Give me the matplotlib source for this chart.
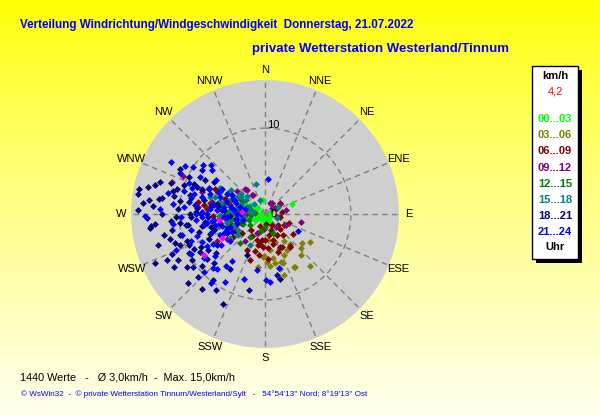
import numpy as np
import matplotlib
matplotlib.use('Agg')
import matplotlib.pyplot as plt
from matplotlib.patches import Rectangle

plt.rcParams['font.family'] = ['Liberation Sans', 'DejaVu Sans']

# wind points: (direction in deg, speed in km/h), grouped by time of day
g00_03 = [(70, 3.3), (352, 1.6), (120, 0.7), (260, 1.0), (270, 1.5), (280, 2.0), (275, 2.5),
          (265, 3.0), (285, 3.2), (290, 1.2), (250, 1.8), (255, 2.4), (300, 2.0), (310, 1.0),
          (240, 1.3), (230, 0.8), (270, 0.5), (295, 2.7), (280, 3.5), (260, 2.2), (90, 0.6),
          (60, 1.0), (200, 0.8), (180, 0.5), (150, 0.9), (285, 1.6), (275, 1.0), (265, 1.9),
          (250, 2.9), (290, 2.4)]
g03_06 = [(183, 5.0), (170, 5.2), (168, 5.8), (160, 6.1), (149, 4.9), (150, 7.1), (139, 6.3),
          (133, 5.8), (160, 3.5), (173, 3.0), (150, 2.8), (122, 6.2), (128, 5.4), (151, 7.0),
          (161, 5.9), (182, 4.9), (175, 6.1), (165, 6.6), (158, 4.4), (145, 3.8), (172, 4.2),
          (178, 5.6), (155, 5.3), (140, 4.6), (188, 6.2), (163, 7.4), (139, 8.0)]
g06_09 = [(54, 2.2), (83, 2.0), (143, 4.8), (183, 3.8), (187, 3.0), (197, 3.2), (207, 4.7),
          (297, 6.2), (280, 7.9), (283, 6.3), (265, 5.3), (251, 4.7), (142, 4.7), (176, 5.2),
          (161, 4.7), (193, 3.7), (153, 4.3), (160, 2.0), (170, 2.5), (180, 3.0), (190, 3.5),
          (150, 2.8), (140, 3.2), (200, 2.4), (175, 4.0), (165, 3.6), (155, 4.2), (195, 4.4),
          (210, 3.0), (220, 2.5), (130, 2.0), (120, 2.6), (185, 1.8), (230, 3.5), (240, 4.0),
          (250, 3.0), (260, 3.5), (270, 4.0), (280, 3.0), (145, 1.5), (205, 1.5), (290, 5.0),
          (275, 6.8), (300, 4.6), (297, 6.5), (278, 7.2), (268, 6.0), (100, 1.8), (110, 3.0),
          (125, 4.0), (135, 2.4), (60, 1.4), (255, 4.2), (245, 5.0), (265, 4.6), (285, 4.2),
          (275, 5.0), (235, 4.6), (172, 1.2), (162, 3.2), (188, 4.8), (198, 5.6)]
g09_12 = [(295, 10.5), (289, 11.4), (103, 4.3), (292, 4.3), (286, 3.0), (323, 3.5), (325, 2.7),
          (25, 1.4), (50, 1.0), (103, 1.4), (203, 2.4), (216, 3.9), (236, 5.3), (240, 6.4),
          (267, 5.2), (281, 6.5), (292, 7.9), (276, 7.9), (32, 1.5), (321, 3.7), (328, 2.6),
          (295, 6.1), (289, 7.8), (65, 1.6), (300, 5.0), (310, 4.2), (260, 4.5), (250, 3.6),
          (270, 2.2), (118, 2.8), (140, 2.0), (80, 2.5), (56, 2.1), (275, 4.0), (285, 5.4),
          (265, 3.2), (255, 5.6), (300, 3.4), (280, 2.0), (245, 4.4)]
g12_15 = [(213, 3.2), (221, 4.4), (157, 2.4), (250, 2.0), (260, 2.6), (270, 3.0), (280, 2.2),
          (265, 1.6), (275, 3.8), (285, 2.9), (255, 3.4), (245, 2.8), (290, 1.8), (235, 2.2),
          (300, 3.0), (270, 4.5), (260, 4.0), (275, 1.2), (195, 2.0), (180, 1.5)]
g15_18 = [(343, 3.6), (301, 4.7), (301, 3.8), (307, 2.7), (310, 3.7), (284, 5.0), (277, 3.7),
          (256, 4.5), (236, 4.9), (239, 3.6), (292, 2.3), (312, 1.8), (279, 1.8), (296, 5.8),
          (289, 6.1), (287, 6.7), (263, 2.5), (340, 1.7), (62, 1.7), (108, 1.5), (206, 4.0),
          (232, 4.0), (300, 6.0), (285, 5.6), (275, 4.2), (265, 3.3), (255, 5.8), (245, 4.6),
          (290, 3.0), (305, 3.4), (315, 2.9), (295, 2.0), (280, 1.4), (270, 3.8), (262, 4.2),
          (250, 4.0), (258, 3.0), (283, 3.3), (290, 4.4), (298, 3.8), (305, 4.8), (278, 5.3),
          (268, 5.4)]
g18_21 = [(281, 15.0), (279, 15.0), (274, 13.1), (264, 13.3), (279, 12.1), (246, 14.0),
          (281, 10.8), (286, 10.6), (279, 10.0), (268, 10.4), (264, 10.0), (262, 9.3),
          (255, 11.4), (251, 9.6), (242, 11.5), (243, 9.9), (243, 8.4), (234, 10.4),
          (220, 11.4), (213, 10.5), (205, 11.6), (192, 9.0), (167, 7.8), (169, 7.2),
          (204, 5.2), (227, 10.7), (232, 8.6), (232, 7.3), (237, 6.6), (212, 7.6),
          (283, 7.3), (278, 6.4), (275, 7.9), (267, 6.7), (270, 8.7), (259, 7.5), (253, 6.2),
          (292, 8.5), (300, 8.0), (302, 7.0), (293, 9.0), (296, 9.8), (275, 4.8), (266, 4.1),
          (258, 5.3), (282, 5.7), (243, 5.0), (272, 8.0), (284, 9.0), (262, 9.0), (255, 8.0),
          (248, 9.5), (266, 11.0), (278, 12.5), (258, 12.0), (288, 11.5), (270, 7.5),
          (280, 5.6), (250, 6.8), (240, 8.8), (294, 7.2), (263, 13.5), (275, 14.2),
          (285, 13.2), (252, 11.0), (245, 12.6), (238, 10.0), (270, 12.0), (265, 12.8),
          (260, 11.0), (256, 10.2), (250, 10.5), (247, 11.8), (240, 12.3), (236, 11.0),
          (230, 9.5), (226, 8.2), (284, 11.0), (287, 12.8), (283, 14.0), (277, 13.6),
          (272, 14.8), (268, 13.8), (290, 10.0), (298, 11.2), (262, 7.0), (257, 6.5),
          (246, 7.2), (238, 7.8), (273, 10.2), (279, 9.0), (268, 8.6), (291, 7.8), (254, 13.0),
          (244, 9.2), (228, 12.0), (218, 9.8)]
g21_24 = [(305, 8.9), (310, 8.0), (300, 8.7), (290, 9.0), (286, 8.6), (275, 9.5), (272, 7.3),
          (265, 8.1), (261, 6.8), (251, 6.7), (252, 8.3), (246, 8.0), (241, 7.7), (224, 8.7),
          (221, 8.5), (217, 7.6), (215, 6.7), (179, 7.7), (176, 7.9), (165, 6.5), (117, 4.3),
          (5, 4.1), (269, 14.0), (299, 12.5), (301, 10.8), (275, 5.6), (266, 4.8), (282, 4.1),
          (271, 3.3), (263, 6.0), (291, 5.6), (298, 5.0), (294, 4.0), (286, 3.0), (250, 4.3),
          (252, 3.4), (245, 5.3), (255, 2.6), (295, 6.1), (270, 6.8), (280, 6.0), (290, 6.8),
          (260, 7.2), (285, 7.6), (275, 5.0), (265, 4.4), (255, 5.2), (300, 5.8), (295, 7.2),
          (245, 5.8), (240, 7.0), (262, 6.2), (278, 3.6), (288, 4.6), (270, 8.0), (282, 8.8),
          (258, 8.8), (250, 9.2), (292, 9.6), (268, 9.8), (276, 10.8), (305, 7.0), (235, 6.2),
          (230, 7.6), (282, 11.5), (273, 12.2), (264, 10.8), (256, 10.0), (248, 11.2),
          (242, 9.8), (234, 8.8), (226, 9.8), (218, 10.2), (210, 9.2), (198, 8.0), (188, 6.6),
          (296, 11.0), (303, 10.0), (308, 9.2), (312, 8.5), (286, 9.8), (277, 8.2), (267, 7.4),
          (258, 6.0), (249, 4.8), (241, 4.4), (232, 5.2), (280, 4.8), (290, 3.6), (300, 4.4),
          (270, 2.8), (260, 3.4), (285, 2.4), (275, 6.4)]
current = [(236, 8.5), (241, 5.7), (275, 2.7), (263, 5.4)]

groups = [g00_03, g03_06, g06_09, g09_12, g12_15, g15_18, g18_21, g21_24]
group_labels = ['00...03', '03...06', '06...09', '09...12', '12...15', '15...18', '18...21', '21...24']
group_colors = ['#00FF00', '#808000', '#800000', '#800080', '#008000', '#008080', '#000080', '#0000FF']

directions = ['N', 'NNE', 'NE', 'ENE', 'E', 'ESE', 'SE', 'SSE',
              'S', 'SSW', 'SW', 'WSW', 'W', 'WNW', 'NW', 'NNW']
current_speed = '4,2'
rmax = 15.6

W, H = 600, 415
fig = plt.figure(figsize=(W / 100, H / 100), dpi=100)

# background gradient
bg = fig.add_axes([0, 0, 1, 1])
grad = np.linspace(0, 1, 256)
img = np.ones((256, 1, 3))
img[:, 0, 2] = 0.93 * grad ** 0.8
bg.imshow(img, aspect='auto', extent=(0, W, H, 0))
bg.set_xlim(0, W)
bg.set_ylim(H, 0)
bg.axis('off')

# polar plot
cx, cy, R = 265, 214, 134
ax = fig.add_axes([(cx - R) / W, 1 - (cy + R) / H, 2 * R / W, 2 * R / H], projection='polar')
ax.set_theta_zero_location('N')
ax.set_theta_direction(-1)
ax.set_facecolor('#CFCFCF')
ax.spines['polar'].set_visible(False)
ax.set_ylim(0, rmax)
ax.set_xticks(np.deg2rad(np.arange(0, 360, 22.5)))
ax.set_xticklabels([])
ax.set_yticks([10])
ax.set_yticklabels([])
ax.tick_params(length=0)
ax.grid(True, color='#808080', linestyle=(0, (4, 3)), linewidth=1)

for d, lab in zip(np.arange(0, 360, 22.5), directions):
    ax.text(np.deg2rad(d), rmax * 1.075, lab, ha='center', va='center', fontsize=8)
ax.text(np.deg2rad(5.5), 10.4, '10', ha='center', va='center', fontsize=8)
ax.text(np.deg2rad(90), 1.0, '0', ha='center', va='center', fontsize=8)

for pts, col in zip(groups, group_colors):
    d = np.deg2rad([p[0] for p in pts])
    s = [p[1] for p in pts]
    ax.plot(d, s, 'D', color=col, ms=3.5, mew=0, clip_on=False)
d = np.deg2rad([p[0] for p in current])
ax.plot(d, [p[1] for p in current], 'D', color='#FF00FF', ms=3.5, mew=0)

# titles
bg.text(20, 25, 'Verteilung Windrichtung/Windgeschwindigkeit  Donnerstag, 21.07.2022',
        color='#0000FF', fontsize=8.4, fontweight='bold', ha='left', va='center')
bg.text(252, 49, 'private Wetterstation Westerland/Tinnum',
        color='#0000FF', fontsize=9.5, fontweight='bold', ha='left', va='center')

bg.text(20, 377, '1440 Werte   -   Ø 3,0km/h  -  Max. 15,0km/h', fontsize=7.8,
        ha='left', va='center')
bg.text(21, 394, "© WsWin32  -  © private Wetterstation Tinnum/Westerland/Sylt   -   "
        "54°54'13'' Nord; 8°19'13'' Ost", fontsize=5.9, color='#0000FF',
        ha='left', va='center')

# legend box
bg.add_patch(Rectangle((536, 70), 46, 193, facecolor='black', edgecolor='none'))
bg.add_patch(Rectangle((532, 66), 46, 193, facecolor='white', edgecolor='black', lw=1))
lx = 555
bg.text(lx, 76, 'km/h', fontsize=8, fontweight='bold', ha='center', va='center')
bg.text(lx, 92, current_speed, fontsize=8, color='#FF0000', ha='center', va='center')
for i, (lab, col) in enumerate(zip(group_labels, group_colors)):
    bg.text(lx, 119 + i * 16.2, lab, fontsize=8, fontweight='bold', color=col,
            ha='center', va='center')
bg.text(lx, 247, 'Uhr', fontsize=8, fontweight='bold', ha='center', va='center')

fig.savefig('out.png', dpi=100)
